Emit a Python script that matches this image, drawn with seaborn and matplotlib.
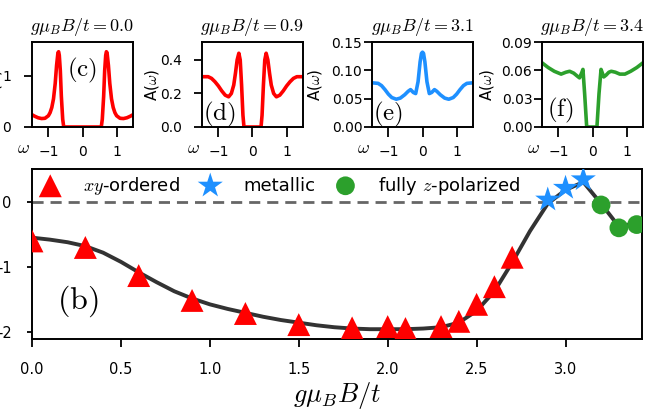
import numpy as np
import pandas as pd
import seaborn as sns
import matplotlib
matplotlib.use("Agg")
import matplotlib.pyplot as plt

sns.set_style("ticks")
plt.rcParams["mathtext.fontset"] = "cm"
plt.rcParams["font.family"] = ["DejaVu Sans"]
for k in ["text.color", "axes.labelcolor", "xtick.color", "ytick.color", "axes.edgecolor"]:
    plt.rcParams[k] = "black"

# ---------------- main panel data ----------------
xy_B = [0.0, 0.3, 0.6, 0.9, 1.2, 1.5, 1.8, 2.0, 2.1, 2.3, 2.4, 2.5, 2.6, 2.7]
xy_E = [-0.60, -0.70, -1.13, -1.51, -1.71, -1.88, -1.93, -1.91, -1.94, -1.91, -1.83, -1.57, -1.30, -0.85]
met_B = [2.9, 3.0, 3.1]
met_E = [0.03, 0.21, 0.34]
z_B = [3.2, 3.3, 3.4]
z_E = [-0.05, -0.40, -0.35]

line_B = [0.0, 0.1, 0.2, 0.3, 0.4, 0.5, 0.6, 0.7, 0.8, 0.9, 1.0, 1.1, 1.2, 1.3, 1.4, 1.5, 1.6,
          1.7, 1.8, 1.9, 2.0, 2.1, 2.2, 2.3, 2.4, 2.5, 2.6, 2.7, 2.8, 2.9, 3.0, 3.1, 3.2, 3.3, 3.4]
line_E = [-0.55, -0.58, -0.62, -0.68, -0.78, -0.92, -1.08, -1.23, -1.37, -1.48, -1.57, -1.64,
          -1.70, -1.76, -1.81, -1.85, -1.89, -1.92, -1.94, -1.95, -1.95, -1.95, -1.94, -1.92,
          -1.85, -1.67, -1.37, -0.93, -0.45, -0.03, 0.18, 0.30, -0.03, -0.38, -0.33]

x_ticks = [0.0, 0.5, 1.0, 1.5, 2.0, 2.5, 3.0]
y_ticks = [0, -1, -2]

# ---------------- inset data ----------------
c_w = [-1.48, -1.4, -1.3, -1.2, -1.1, -1.0, -0.95, -0.9, -0.85, -0.8, -0.76, -0.72, -0.70,
       -0.68, -0.65, -0.62, -0.58, -0.55, 0.55, 0.58, 0.62, 0.65, 0.68, 0.70, 0.72, 0.76,
       0.8, 0.85, 0.9, 0.95, 1.0, 1.1, 1.2, 1.3, 1.4, 1.48]
c_A = [0.24, 0.21, 0.18, 0.165, 0.17, 0.22, 0.28, 0.38, 0.55, 0.85, 1.2, 1.45, 1.47,
       1.40, 1.10, 0.60, 0.15, 0.0, 0.0, 0.15, 0.60, 1.10, 1.40, 1.47, 1.45, 1.2,
       0.85, 0.55, 0.38, 0.28, 0.22, 0.17, 0.165, 0.18, 0.21, 0.24]

d_w = [-1.48, -1.3, -1.2, -1.1, -1.0, -0.9, -0.8, -0.7, -0.62, -0.55, -0.5, -0.45, -0.40,
       -0.36, -0.32, -0.28, -0.25, 0.25, 0.28, 0.32, 0.36, 0.40, 0.45, 0.5, 0.55, 0.62,
       0.7, 0.8, 0.9, 1.0, 1.1, 1.2, 1.3, 1.48]
d_A = [0.30, 0.30, 0.29, 0.27, 0.245, 0.215, 0.19, 0.18, 0.20, 0.25, 0.32, 0.40, 0.44,
       0.40, 0.25, 0.07, 0.0, 0.0, 0.07, 0.25, 0.40, 0.44, 0.40, 0.32, 0.25, 0.20,
       0.18, 0.19, 0.215, 0.245, 0.27, 0.29, 0.30, 0.30]

e_w = [-1.48, -1.3, -1.2, -1.1, -1.0, -0.9, -0.77, -0.65, -0.52, -0.42, -0.35, -0.27, -0.20,
       -0.13, -0.07, -0.03, 0.0, 0.03, 0.07, 0.13, 0.20, 0.27, 0.35, 0.42, 0.52, 0.65,
       0.77, 0.9, 1.0, 1.1, 1.2, 1.3, 1.48]
e_A = [0.078, 0.077, 0.073, 0.066, 0.058, 0.052, 0.049, 0.051, 0.057, 0.063, 0.066, 0.061, 0.059,
       0.080, 0.115, 0.130, 0.132, 0.130, 0.115, 0.080, 0.059, 0.061, 0.066, 0.063, 0.057, 0.051,
       0.049, 0.052, 0.058, 0.066, 0.073, 0.077, 0.078]

f_w = [-1.48, -1.3, -1.12, -0.92, -0.78, -0.67, -0.55, -0.45, -0.38, -0.31, -0.28, -0.23, -0.17,
       0.13, 0.19, 0.25, 0.28, 0.33, 0.40, 0.48, 0.55, 0.67, 0.80, 0.95, 1.12, 1.3, 1.48]
f_A = [0.068, 0.063, 0.059, 0.056, 0.058, 0.059, 0.057, 0.054, 0.052, 0.058, 0.061, 0.035, 0.0,
       0.0, 0.035, 0.061, 0.058, 0.053, 0.055, 0.058, 0.059, 0.058, 0.056, 0.056, 0.059, 0.063, 0.068]

inset_titles = [r"$g\mu_B B/t=0.0$", r"$g\mu_B B/t=0.9$", r"$g\mu_B B/t=3.1$", r"$g\mu_B B/t=3.4$"]
inset_tags = ["(c)", "(d)", "(e)", "(f)"]
inset_yticks = [[0, 1], [0.0, 0.2, 0.4], [0.00, 0.05, 0.10, 0.15], [0.00, 0.03, 0.06, 0.09]]
inset_yticklabels = [["0", "1"], ["0.0", "0.2", "0.4"], ["0.00", "0.05", "0.10", "0.15"],
                     ["0.00", "0.03", "0.06", "0.09"]]
inset_ylims = [(0, 1.66), (0, 0.507), (0, 0.15), (0, 0.09)]
inset_colors = ["#ff0000", "#ff0000", "#1e90ff", "#2ca02c"]
w_ticks = [-1, 0, 1]

W, H = 667, 413
fig = plt.figure(figsize=(W / 100, H / 100), dpi=100)


def fr(x0, y0, x1, y1):
    return [x0 / W, 1 - y1 / H, (x1 - x0) / W, (y1 - y0) / H]


# ---------------- main axes ----------------
ax = fig.add_axes(fr(32, 169, 642, 339))
ax.axhline(0, color="#666666", lw=2, ls=(0, (4, 2.5)), zorder=1)
sns.lineplot(x=line_B, y=line_E, ax=ax, color="#333333", lw=2.8, sort=False,
             estimator=None, zorder=2)
sns.scatterplot(x=xy_B, y=xy_E, ax=ax, marker="^", s=16.5 ** 2, color="#ff0000",
                edgecolor="none", label=r"$xy$-ordered", zorder=3)
sns.scatterplot(x=met_B, y=met_E, ax=ax, marker="*", s=19 ** 2, color="#1e90ff",
                edgecolor="none", label="metallic", zorder=3)
sns.scatterplot(x=z_B, y=z_E, ax=ax, marker="o", s=13.5 ** 2, color="#2ca02c",
                edgecolor="none", label=r"fully $z$-polarized", zorder=3)
ax.set_xlim(0, 3.43)
ax.set_ylim(-2.1, 0.5)
ax.set_xticks(x_ticks)
ax.set_xticklabels([f"{t:.1f}" for t in x_ticks])
ax.set_yticks(y_ticks)
ax.set_yticklabels([str(t) for t in y_ticks])
ax.tick_params(axis="x", labelsize=10.5, width=1.3, length=5.5, pad=11, direction="out")
ax.tick_params(axis="y", labelsize=10.5, width=1.3, length=3.5, pad=11, direction="out")
for s in ax.spines.values():
    s.set_linewidth(1.4)
    s.set_color("black")
ax.set_xlabel(r"$g\mu_B B/t$", fontsize=19, labelpad=2)
ax.set_ylabel("")
ax.text(0.075, 0.22, r"$\mathrm{(b)}$", transform=ax.transAxes, fontsize=23,
        ha="center", va="center")
ax.legend(loc="upper left", bbox_to_anchor=(-0.0115, 1.01), ncol=3, frameon=False,
          fontsize=13, handletextpad=0.83, columnspacing=0.67, borderaxespad=0)

# ---------------- insets ----------------
inset_w = [c_w, d_w, e_w, f_w]
inset_A = [c_A, d_A, e_A, f_A]
lefts = [32, 202, 372, 542]
ypads = [9.4, 8.6, 1.5, 1.5]
ylab_x = [-0.37, -0.50, -0.56, -0.54]
tag_pos = [(0.50, 0.67), (0.17, 0.15), (0.16, 0.15), (0.18, 0.19)]
for i in range(4):
    a = fig.add_axes(fr(lefts[i], 42, lefts[i] + 101, 127))
    sns.lineplot(x=inset_w[i], y=inset_A[i], ax=a, color=inset_colors[i], lw=2.6,
                 sort=False, estimator=None)
    a.set_xlim(-1.48, 1.48)
    a.set_ylim(*inset_ylims[i])
    a.set_xticks(w_ticks)
    a.set_xticklabels(["\u22121", "0", "1"])
    a.set_yticks(inset_yticks[i])
    a.set_yticklabels(inset_yticklabels[i])
    a.tick_params(axis="x", labelsize=10, width=1.3, length=7, pad=6, direction="out")
    a.tick_params(axis="y", labelsize=10, width=1.3, length=5.5, pad=ypads[i], direction="out")
    for s in a.spines.values():
        s.set_linewidth(1.4)
        s.set_color("black")
    a.set_title(inset_titles[i], fontsize=13, pad=8)
    a.set_ylabel(r"A($\omega$)", fontsize=11, va="center")
    a.yaxis.set_label_coords(ylab_x[i], 0.5)
    a.set_xlabel(r"$\omega$", fontsize=13)
    a.xaxis.set_label_coords(-0.08, -0.14)
    a.text(tag_pos[i][0], tag_pos[i][1], r"$\mathrm{" + inset_tags[i] + "}$",
           transform=a.transAxes, fontsize=18, ha="center", va="center")

fig.savefig("out.png", dpi=100)
